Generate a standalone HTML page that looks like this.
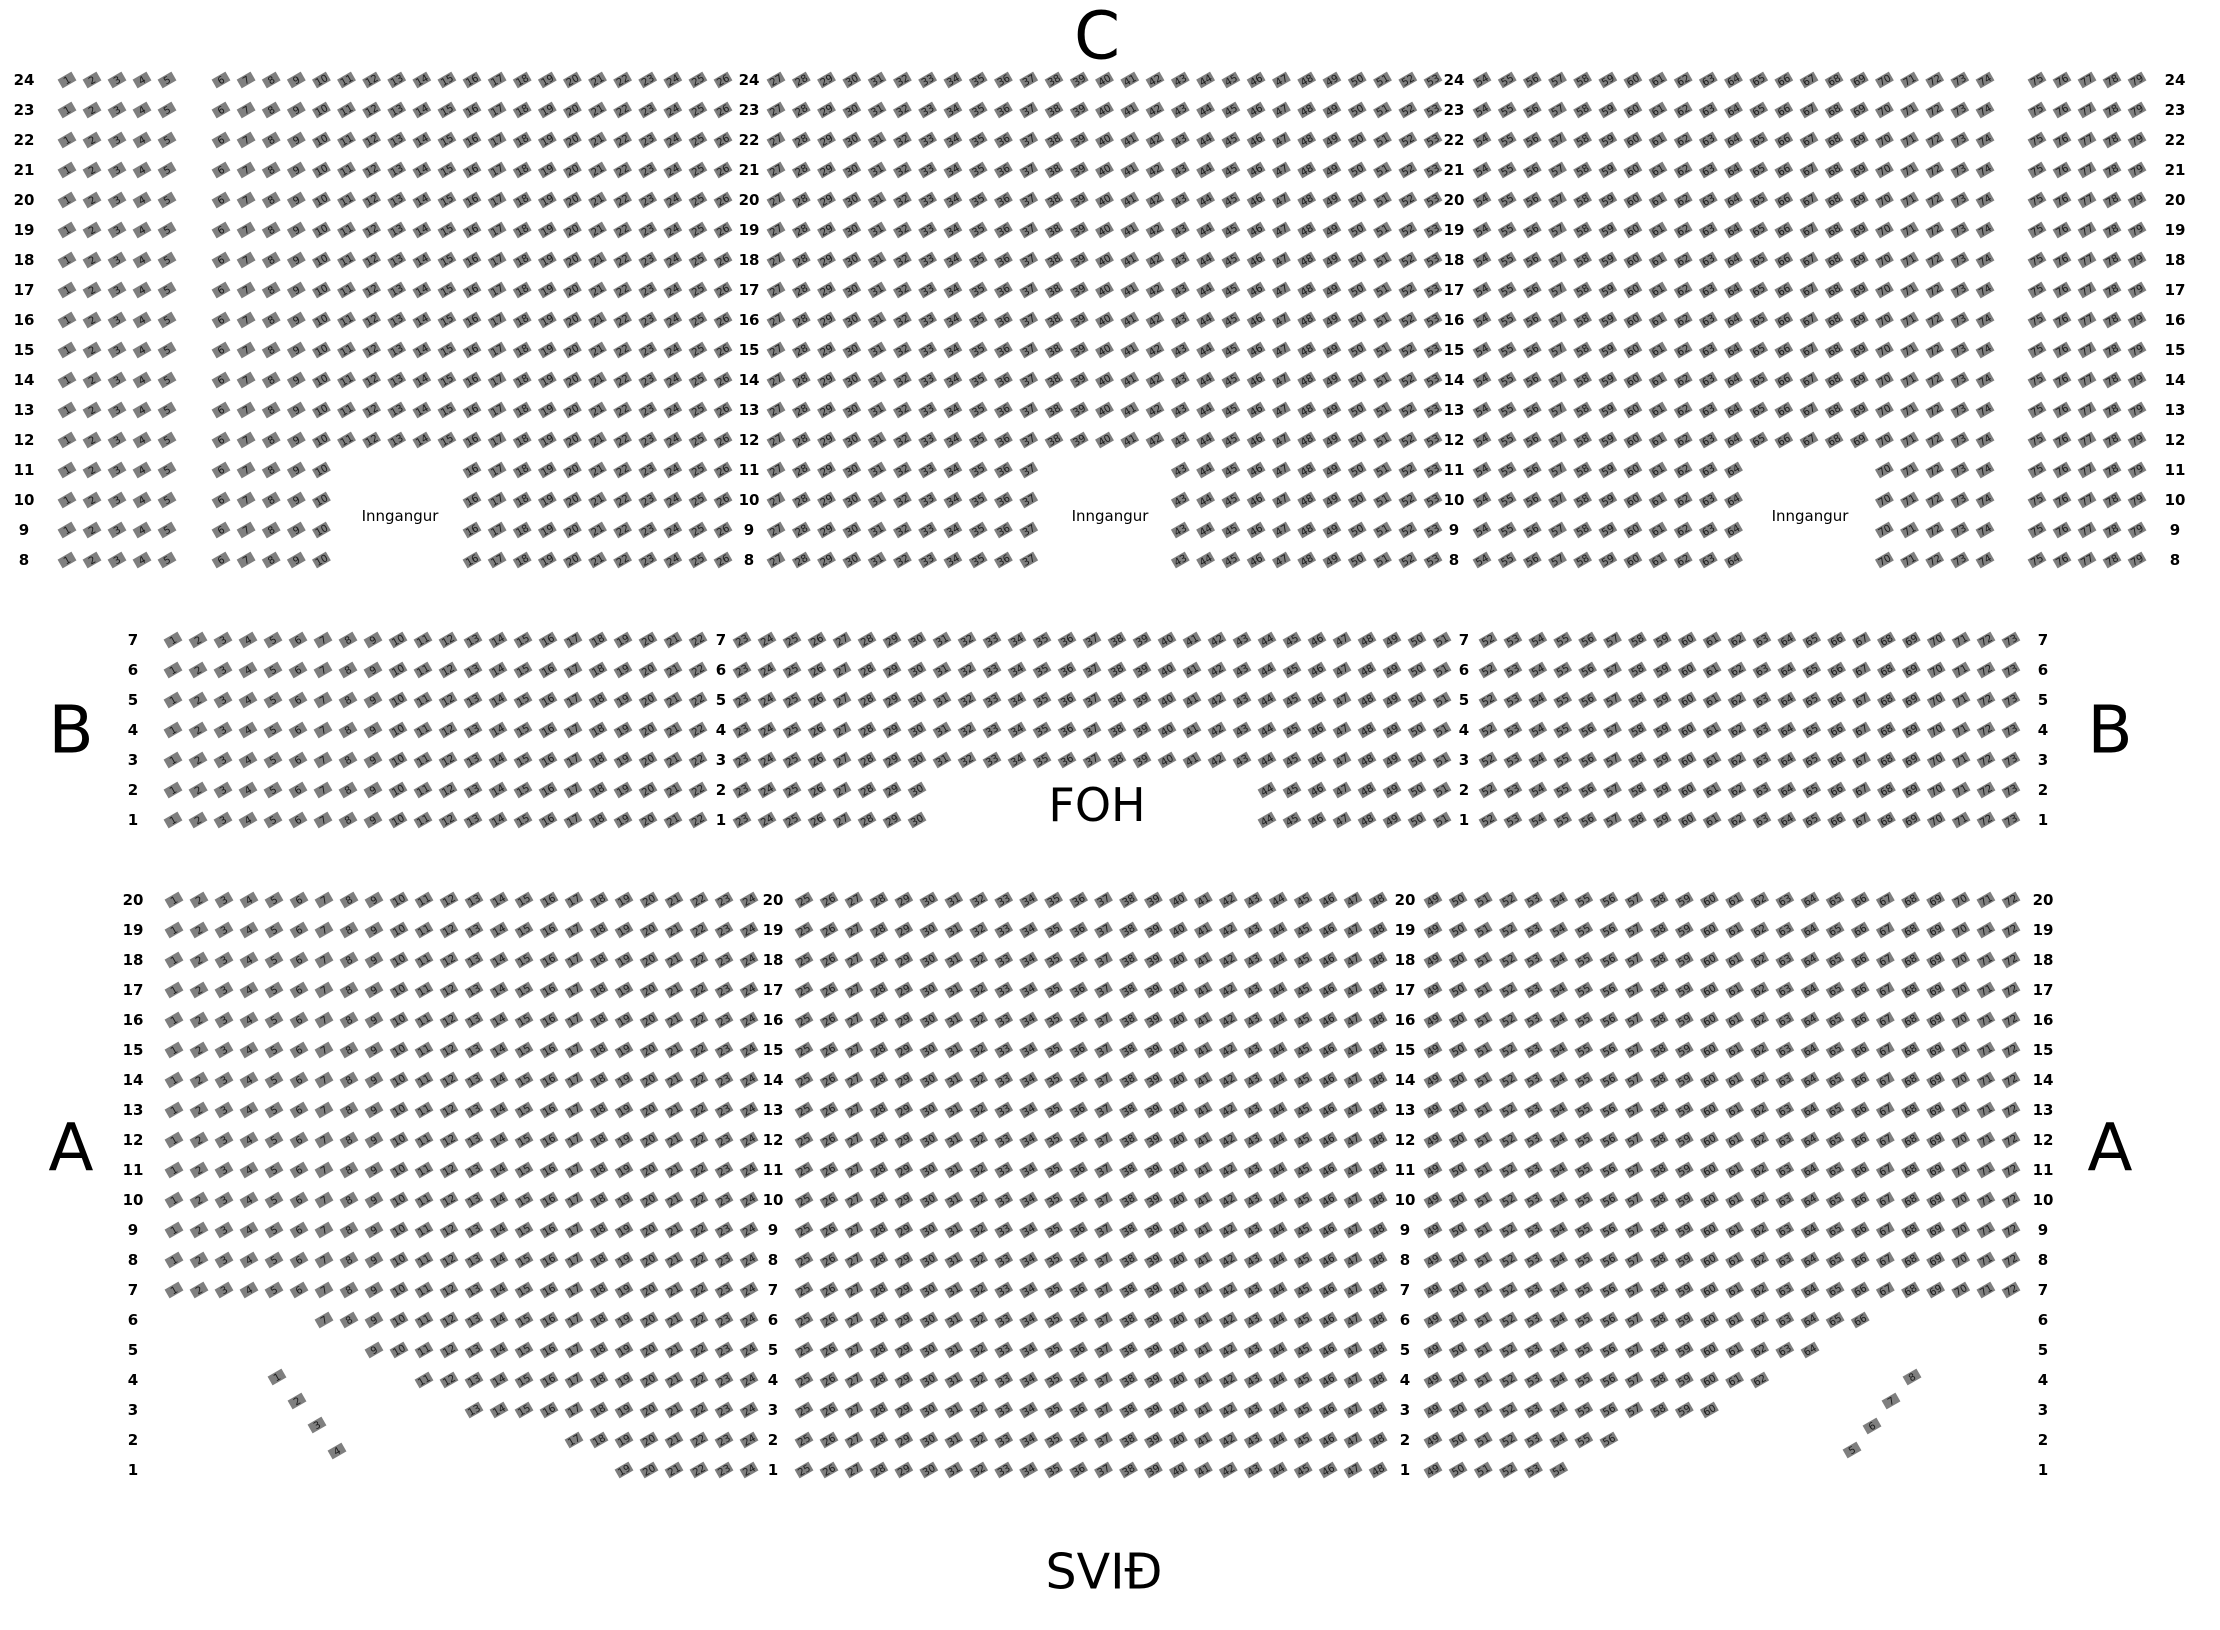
<!DOCTYPE html>
<html><head><meta charset="utf-8"><style>
html,body{margin:0;padding:0;background:#fff;}
svg{display:block;}
.rl{font-family:"DejaVu Sans","Liberation Sans",sans-serif;font-weight:bold;font-size:15px;fill:#000;}
.big{font-family:"DejaVu Sans","Liberation Sans",sans-serif;fill:#000;}
.inn{font-family:"DejaVu Sans","Liberation Sans",sans-serif;font-size:15px;fill:#000;}
</style></head><body>
<svg id="s" width="2220" height="1630" viewBox="0 0 2220 1630" xmlns="http://www.w3.org/2000/svg">
<g id="seats"></g>
<g class="big" text-anchor="middle" dominant-baseline="central">
<text x="1097" y="36" font-size="66">C</text>
<text x="71" y="730" font-size="66">B</text>
<text x="2110" y="730" font-size="66">B</text>
<text x="71" y="1148" font-size="66">A</text>
<text x="2110" y="1148" font-size="66">A</text>
<text x="1097" y="805" font-size="46">FOH</text>
<text x="1104" y="1572" font-size="49">SVIÐ</text>
</g>
<g class="inn" text-anchor="middle" dominant-baseline="central">
<text x="400" y="516">Inngangur</text>
<text x="1110" y="516">Inngangur</text>
<text x="1810" y="516">Inngangur</text>
</g>
<g class="rl" text-anchor="middle" dominant-baseline="central">
<text x="24" y="80">24</text><text x="749" y="80">24</text><text x="1454" y="80">24</text><text x="2175" y="80">24</text>
<text x="24" y="110">23</text><text x="749" y="110">23</text><text x="1454" y="110">23</text><text x="2175" y="110">23</text>
<text x="24" y="140">22</text><text x="749" y="140">22</text><text x="1454" y="140">22</text><text x="2175" y="140">22</text>
<text x="24" y="170">21</text><text x="749" y="170">21</text><text x="1454" y="170">21</text><text x="2175" y="170">21</text>
<text x="24" y="200">20</text><text x="749" y="200">20</text><text x="1454" y="200">20</text><text x="2175" y="200">20</text>
<text x="24" y="230">19</text><text x="749" y="230">19</text><text x="1454" y="230">19</text><text x="2175" y="230">19</text>
<text x="24" y="260">18</text><text x="749" y="260">18</text><text x="1454" y="260">18</text><text x="2175" y="260">18</text>
<text x="24" y="290">17</text><text x="749" y="290">17</text><text x="1454" y="290">17</text><text x="2175" y="290">17</text>
<text x="24" y="320">16</text><text x="749" y="320">16</text><text x="1454" y="320">16</text><text x="2175" y="320">16</text>
<text x="24" y="350">15</text><text x="749" y="350">15</text><text x="1454" y="350">15</text><text x="2175" y="350">15</text>
<text x="24" y="380">14</text><text x="749" y="380">14</text><text x="1454" y="380">14</text><text x="2175" y="380">14</text>
<text x="24" y="410">13</text><text x="749" y="410">13</text><text x="1454" y="410">13</text><text x="2175" y="410">13</text>
<text x="24" y="440">12</text><text x="749" y="440">12</text><text x="1454" y="440">12</text><text x="2175" y="440">12</text>
<text x="24" y="470">11</text><text x="749" y="470">11</text><text x="1454" y="470">11</text><text x="2175" y="470">11</text>
<text x="24" y="500">10</text><text x="749" y="500">10</text><text x="1454" y="500">10</text><text x="2175" y="500">10</text>
<text x="24" y="530">9</text><text x="749" y="530">9</text><text x="1454" y="530">9</text><text x="2175" y="530">9</text>
<text x="24" y="560">8</text><text x="749" y="560">8</text><text x="1454" y="560">8</text><text x="2175" y="560">8</text>
<text x="133" y="640">7</text><text x="721" y="640">7</text><text x="1464" y="640">7</text><text x="2043" y="640">7</text>
<text x="133" y="670">6</text><text x="721" y="670">6</text><text x="1464" y="670">6</text><text x="2043" y="670">6</text>
<text x="133" y="700">5</text><text x="721" y="700">5</text><text x="1464" y="700">5</text><text x="2043" y="700">5</text>
<text x="133" y="730">4</text><text x="721" y="730">4</text><text x="1464" y="730">4</text><text x="2043" y="730">4</text>
<text x="133" y="760">3</text><text x="721" y="760">3</text><text x="1464" y="760">3</text><text x="2043" y="760">3</text>
<text x="133" y="790">2</text><text x="721" y="790">2</text><text x="1464" y="790">2</text><text x="2043" y="790">2</text>
<text x="133" y="820">1</text><text x="721" y="820">1</text><text x="1464" y="820">1</text><text x="2043" y="820">1</text>
<text x="133" y="900">20</text><text x="773" y="900">20</text><text x="1405" y="900">20</text><text x="2043" y="900">20</text>
<text x="133" y="930">19</text><text x="773" y="930">19</text><text x="1405" y="930">19</text><text x="2043" y="930">19</text>
<text x="133" y="960">18</text><text x="773" y="960">18</text><text x="1405" y="960">18</text><text x="2043" y="960">18</text>
<text x="133" y="990">17</text><text x="773" y="990">17</text><text x="1405" y="990">17</text><text x="2043" y="990">17</text>
<text x="133" y="1020">16</text><text x="773" y="1020">16</text><text x="1405" y="1020">16</text><text x="2043" y="1020">16</text>
<text x="133" y="1050">15</text><text x="773" y="1050">15</text><text x="1405" y="1050">15</text><text x="2043" y="1050">15</text>
<text x="133" y="1080">14</text><text x="773" y="1080">14</text><text x="1405" y="1080">14</text><text x="2043" y="1080">14</text>
<text x="133" y="1110">13</text><text x="773" y="1110">13</text><text x="1405" y="1110">13</text><text x="2043" y="1110">13</text>
<text x="133" y="1140">12</text><text x="773" y="1140">12</text><text x="1405" y="1140">12</text><text x="2043" y="1140">12</text>
<text x="133" y="1170">11</text><text x="773" y="1170">11</text><text x="1405" y="1170">11</text><text x="2043" y="1170">11</text>
<text x="133" y="1200">10</text><text x="773" y="1200">10</text><text x="1405" y="1200">10</text><text x="2043" y="1200">10</text>
<text x="133" y="1230">9</text><text x="773" y="1230">9</text><text x="1405" y="1230">9</text><text x="2043" y="1230">9</text>
<text x="133" y="1260">8</text><text x="773" y="1260">8</text><text x="1405" y="1260">8</text><text x="2043" y="1260">8</text>
<text x="133" y="1290">7</text><text x="773" y="1290">7</text><text x="1405" y="1290">7</text><text x="2043" y="1290">7</text>
<text x="133" y="1320">6</text><text x="773" y="1320">6</text><text x="1405" y="1320">6</text><text x="2043" y="1320">6</text>
<text x="133" y="1350">5</text><text x="773" y="1350">5</text><text x="1405" y="1350">5</text><text x="2043" y="1350">5</text>
<text x="133" y="1380">4</text><text x="773" y="1380">4</text><text x="1405" y="1380">4</text><text x="2043" y="1380">4</text>
<text x="133" y="1410">3</text><text x="773" y="1410">3</text><text x="1405" y="1410">3</text><text x="2043" y="1410">3</text>
<text x="133" y="1440">2</text><text x="773" y="1440">2</text><text x="1405" y="1440">2</text><text x="2043" y="1440">2</text>
<text x="133" y="1470">1</text><text x="773" y="1470">1</text><text x="1405" y="1470">1</text><text x="2043" y="1470">1</text>
</g>
</svg>
<script>
(function(){
var g=document.getElementById("seats");
var html="";
function seat(x,y,n){
  html+='<g transform="translate('+x.toFixed(1)+','+y+') rotate(-30)"><rect x="-8" y="-5" width="16" height="10" fill="#7f7f7f"/><text x="0" y="3.6" font-size="10" font-family="DejaVu Sans,Liberation Sans,sans-serif" text-anchor="middle" fill="#1a1a1a">'+n+'</text></g>';
}
function block(y,x0,pitch,a,b,skip){
  for(var i=a;i<=b;i++){
    if(skip && i>=skip[0] && i<=skip[1]) continue;
    seat(x0+pitch*(i-a),y,i);
  }
}
for(var r=24;r>=8;r--){
  var y=80+(24-r)*30, low=r<=11;
  block(y,67,25,1,5);
  block(y,221,25.1,6,26,low?[11,15]:null);
  block(y,776,25.27,27,53,low?[38,42]:null);
  block(y,1482,25.15,54,74,low?[65,69]:null);
  block(y,2037,25,75,79);
}
for(var r=7;r>=1;r--){
  var y=640+(7-r)*30;
  block(y,173,25,1,22);
  block(y,742,25,23,51,r<=2?[31,43]:null);
  block(y,1488,24.9,52,73);
}
var ls={6:7,5:9,4:11,3:13,2:17,1:19}, re={6:66,5:64,4:62,3:60,2:56,1:54};
for(var r=20;r>=1;r--){
  var y=900+(20-r)*30;
  var s=ls[r]||1, e=re[r]||72;
  for(var i=s;i<=24;i++) seat(174+25*(i-1),y,i);
  block(y,804,24.96,25,48);
  for(var i=49;i<=e;i++) seat(1433+25.13*(i-49),y,i);
}
[[277,1377,1],[297,1401,2],[317,1425,3],[337,1451,4],[1852,1450,5],[1872,1426,6],[1891,1401,7],[1912,1377,8]].forEach(function(p){seat(p[0],p[1],p[2]);});
g.innerHTML=html;
})();
</script>
</body></html>
